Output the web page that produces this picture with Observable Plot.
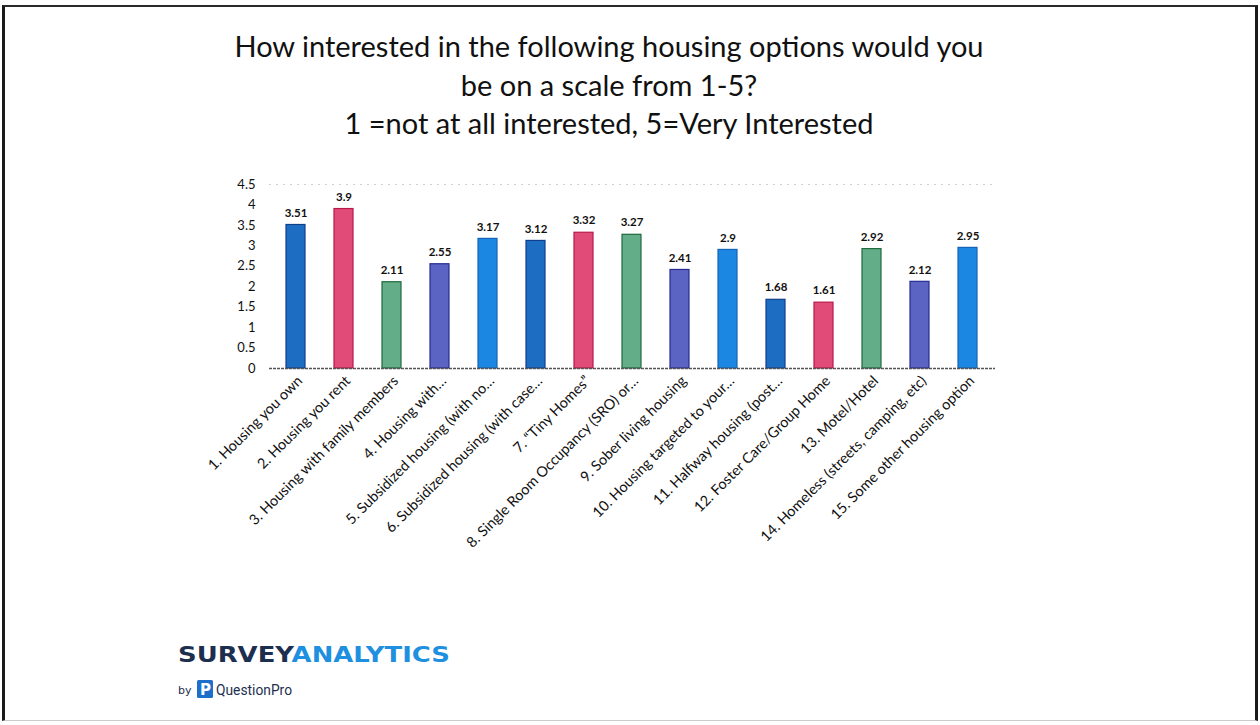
<!DOCTYPE html>
<html>
<head>
<meta charset="utf-8">
<script src="https://cdn.jsdelivr.net/npm/d3@7"></script>
<script src="https://cdn.jsdelivr.net/npm/@observablehq/plot@0.6"></script>
<style>
  html, body { margin:0; padding:0; background:#fff; }
  body { width:1260px; height:725px; position:relative; overflow:hidden; font-family: Lato, "Open Sans", sans-serif; }
  #frame { position:absolute; left:2px; top:5px; width:1250px; height:713px; border-left:3px solid #1a1a1a; border-right:3px solid #1a1a1a; border-top:2px solid #2a2a2a; border-bottom:1px solid #ccc; }
  #title { position:absolute; left:0; width:1218px; top:27px; text-align:center; font-size:29px; line-height:38.5px; color:#111; font-family: Lato, sans-serif; }
  #chart { position:absolute; left:0; top:170px; }
  #logo { position:absolute; left:176px; top:640px; }
</style>
</head>
<body>
<div id="frame"></div>
<div id="title">How interested in the following housing options would you<br>be on a scale from 1-5?<br>1 =not at all interested, 5=Very Interested</div>
<div id="chart"></div>
<div id="logo">
<svg width="300" height="65">
  <text x="2" y="22" font-family="'DejaVu Sans', sans-serif" font-weight="bold" font-size="21" textLength="272" lengthAdjust="spacingAndGlyphs"><tspan fill="#1d2f4f">SURVEY</tspan><tspan fill="#1f8fdf">ANALYTICS</tspan></text>
  <text x="2" y="54" font-family="'DejaVu Sans', sans-serif" font-size="11" fill="#1d2f4f">by</text>
  <rect x="21" y="40" width="16" height="18" rx="1.5" fill="#1d6fc9"/>
  <text x="24" y="55" font-family="'DejaVu Sans', sans-serif" font-weight="bold" font-size="15" fill="#fff">P</text>
  <text x="40" y="55" font-family="Roboto, sans-serif" font-size="15.5" fill="#1d2f4f" textLength="76" lengthAdjust="spacingAndGlyphs">QuestionPro</text>
</svg>
</div>
<script>
const categories = [
  "1. Housing you own",
  "2. Housing you rent",
  "3. Housing with family members",
  "4. Housing with…",
  "5. Subsidized housing (with no…",
  "6. Subsidized housing (with case…",
  "7. “Tiny Homes”",
  "8. Single Room Occupancy (SRO) or…",
  "9. Sober living housing",
  "10. Housing targeted to your…",
  "11. Halfway housing (post…",
  "12. Foster Care/Group Home",
  "13. Motel/Hotel",
  "14. Homeless (streets, camping, etc)",
  "15. Some other housing option"
];
const values = [3.51, 3.9, 2.11, 2.55, 3.17, 3.12, 3.32, 3.27, 2.41, 2.9, 1.68, 1.61, 2.92, 2.12, 2.95];
const yTicks = [0, 0.5, 1, 1.5, 2, 2.5, 3, 3.5, 4, 4.5];

const fills   = ["#1d6ec3", "#e14b78", "#63ad88", "#5b63c3", "#1c87e2"];
const strokes = ["#123f8c", "#b8174a", "#1f6a3e", "#252b90", "#1463b5"];

const data = categories.map((c, i) => ({cat: c, value: values[i], idx: i}));

const chart = Plot.plot({
  width: 1260,
  height: 400,
  marginLeft: 269,
  marginRight: 265,
  marginTop: 14,
  marginBottom: 202,
  style: {fontFamily: "Lato, sans-serif", color: "#111", background: "transparent"},
  x: {domain: categories, paddingInner: 0.6, paddingOuter: 0.3, label: null},
  y: {domain: [0, 4.5], label: null},
  marks: [
    Plot.ruleY([4.5], {stroke: "#bbb", strokeDasharray: "2,5", strokeOpacity: 0.7}),
    Plot.barY(data, {x: "cat", y: "value", fill: d => fills[d.idx % 5], stroke: d => strokes[d.idx % 5], strokeWidth: 1.2}),
    Plot.ruleY([0], {stroke: "#555", strokeWidth: 1.5, strokeDasharray: "3,1"}),
    Plot.text(data, {x: "cat", y: "value", text: d => String(d.value), dy: -12, fontWeight: "bold", fontSize: 11.5, fill: "#111"}),
    Plot.axisY({ticks: yTicks, tickFormat: d => String(d), tickSize: 0, tickPadding: 14, fontSize: 13, label: null}),
    Plot.axisX({tickSize: 0, tickRotate: -45, tickPadding: 8, dx: 4, dy: 2, fontSize: 14.5, label: null})
  ]
});
document.getElementById("chart").appendChild(chart);
</script>
</body>
</html>
